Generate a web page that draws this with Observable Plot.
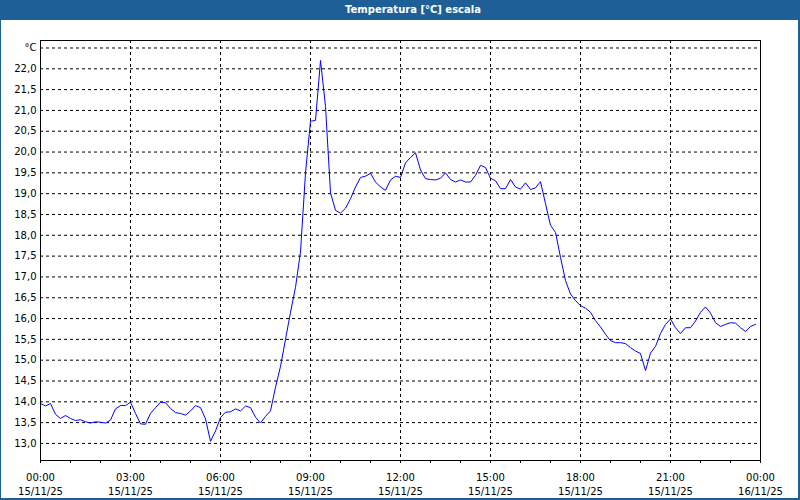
<!DOCTYPE html>
<html><head><meta charset="utf-8">
<script src="https://cdn.jsdelivr.net/npm/d3@7"></script>
<script src="https://cdn.jsdelivr.net/npm/@observablehq/plot@0.6"></script>
<style>
html,body{margin:0;padding:0;background:#fff;}
#wrap{position:relative;width:800px;height:500px;overflow:hidden;font-family:"DejaVu Sans",sans-serif;background:#fff;}
#title{height:20px;background:#1f5f97;color:#fff;font-weight:bold;font-size:10px;line-height:20px;text-align:center;padding-left:26px;box-sizing:border-box;}
#border{position:absolute;left:0;top:0;width:800px;height:500px;box-sizing:border-box;border-left:1px solid #1f5f97;border-right:2px solid #1f5f97;border-bottom:2px solid #1f5f97;pointer-events:none;}
</style></head>
<body>
<div id="wrap"><div id="title">Temperatura [°C] escala</div><div id="chart"></div><div id="border"></div></div>
<script>
// Temperature readings every 10 minutes, 15/11/25 00:00 .. 23:50
const startTime = Date.UTC(2025, 10, 15, 0, 0);
const stepMinutes = 10;
const temperatures = [
  13.96, 13.90, 13.96, 13.70, 13.60, 13.67, 13.60, 13.55, 13.57, 13.52, 13.49, 13.52,
  13.51, 13.49, 13.56, 13.83, 13.91, 13.91, 13.99, 13.72, 13.47, 13.46, 13.72, 13.86,
  13.99, 13.98, 13.84, 13.74, 13.72, 13.68, 13.78, 13.91, 13.86, 13.59, 13.05, 13.30,
  13.62, 13.75, 13.76, 13.83, 13.78, 13.90, 13.86, 13.63, 13.49, 13.65, 13.78, 14.35,
  14.85, 15.50, 16.15, 16.75, 17.60, 19.50, 20.74, 20.76, 22.20, 21.10, 19.02, 18.60,
  18.53, 18.65, 18.88, 19.16, 19.39, 19.42, 19.49, 19.28, 19.16, 19.08, 19.33, 19.42,
  19.39, 19.74, 19.87, 19.98, 19.57, 19.36, 19.34, 19.33, 19.37, 19.50, 19.34, 19.28,
  19.33, 19.28, 19.28, 19.44, 19.68, 19.63, 19.37, 19.31, 19.12, 19.12, 19.34, 19.16,
  19.11, 19.26, 19.10, 19.14, 19.29, 18.76, 18.24, 18.07, 17.47, 16.91, 16.59, 16.43,
  16.31, 16.25, 16.15, 15.95, 15.80, 15.62, 15.47, 15.42, 15.42, 15.40, 15.30, 15.22,
  15.16, 14.75, 15.17, 15.33, 15.64, 15.86, 15.99, 15.78, 15.64, 15.78, 15.78, 15.94,
  16.15, 16.28, 16.13, 15.90, 15.81, 15.86, 15.90, 15.89, 15.78, 15.69, 15.81, 15.86
];
const yTicks = [13.0, 13.5, 14.0, 14.5, 15.0, 15.5, 16.0, 16.5, 17.0, 17.5, 18.0, 18.5, 19.0, 19.5, 20.0, 20.5, 21.0, 21.5, 22.0, 22.5];
const yUnitLabel = "°C";
const yUnitTick = 22.5;
const xMajorHours = [0, 3, 6, 9, 12, 15, 18, 21, 24];
const xMinorHours = [0,1,2,3,4,5,6,7,8,9,10,11,12,13,14,15,16,17,18,19,20,21,22,23,24];
const yDomain = [12.59, 22.68];

const hourDate = h => new Date(startTime + h * 3600000);
const data = temperatures.map((v, i) => ({t: new Date(startTime + i * stepMinutes * 60000), v}));
const pad = n => String(n).padStart(2, "0");
const fmtX = d => `${pad(d.getUTCHours())}:${pad(d.getUTCMinutes())}\n${pad(d.getUTCDate())}/${pad(d.getUTCMonth() + 1)}/${String(d.getUTCFullYear()).slice(2)}`;
const fmtY = d => d === yUnitTick ? yUnitLabel : d.toFixed(1).replace(".", ",");

const majorDates = xMajorHours.map(hourDate);
const minorDates = xMinorHours.map(hourDate);

const chart = Plot.plot({
  width: 800, height: 480,
  marginTop: 20, marginBottom: 40, marginLeft: 40, marginRight: 40,
  style: {fontFamily: "DejaVu Sans", fontSize: "10px", color: "black", background: "white"},
  x: {type: "utc", domain: [hourDate(0), hourDate(24)], label: null},
  y: {domain: yDomain, label: null},
  marks: [
    Plot.gridY(yTicks, {stroke: "black", strokeOpacity: 1, strokeDasharray: "3,3"}),
    Plot.gridX(majorDates, {stroke: "black", strokeOpacity: 1, strokeDasharray: "3,3"}),
    Plot.axisY(yTicks, {tickSize: 0, tickPadding: 4, tickFormat: fmtY, fill: "black", label: null}),
    Plot.axisX(minorDates, {tickSize: 3, tickFormat: () => "", stroke: "black", label: null}),
    Plot.axisX(majorDates, {tickSize: 3, tickPadding: 7, tickFormat: fmtX, lineHeight: 1.43, fill: "black", stroke: "black", label: null}),
    Plot.line(data, {x: "t", y: "v", stroke: "#0000ff", strokeWidth: 1}),
    Plot.frame({stroke: "black"})
  ]
});
document.getElementById("chart").appendChild(chart);
</script>
</body></html>
